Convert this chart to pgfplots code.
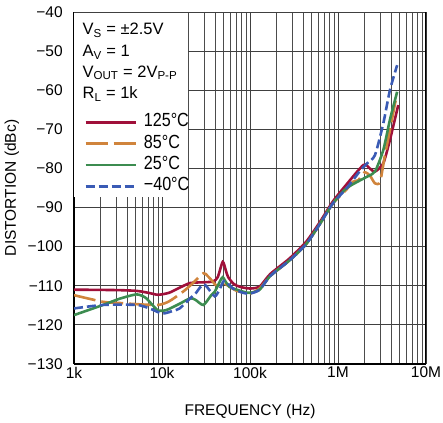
\documentclass[border=0pt]{standalone}
\usepackage{fontspec}
\setmainfont{Liberation Sans}
\newfontfamily\legfont{Liberation Sans}[FakeStretch=0.85]
\usepackage{pgfplots}
\pgfplotsset{compat=1.18}
\definecolor{cRed}{HTML}{A0103A}
\definecolor{cOrange}{HTML}{D0843C}
\definecolor{cGreen}{HTML}{3C8C50}
\definecolor{cBlue}{HTML}{3A5BB5}
\begin{document}
\fontsize{15.5}{18}\selectfont
\begin{tikzpicture}
\begin{axis}[
  scale only axis, width=352pt, height=352pt,
  xmode=log, xmin=1e3, xmax=1e7, ymin=-130, ymax=-40,
  ytick={-130,-120,-110,-100,-90,-80,-70,-60,-50,-40},
  yticklabels={−130,−120,−110,−100,−90,−80,−70,−60,−50,−40},
  xtick={1e3,1e4,1e5,1e6,1e7},
  xticklabels={1k,10k,100k,1M,10M},
  minor xtick={2e3,3e3,4e3,5e3,6e3,7e3,8e3,9e3,2e4,3e4,4e4,5e4,6e4,7e4,8e4,9e4,2e5,3e5,4e5,5e5,6e5,7e5,8e5,9e5,2e6,3e6,4e6,5e6,6e6,7e6,8e6,9e6},
  grid=both,
  major grid style={black!75, line width=0.9pt},
  minor grid style={black!70, line width=0.9pt},
  major tick length=0pt, minor tick length=0pt,
  tick style={draw=none},
  axis x line*=bottom, axis y line*=left,
  axis line style={line width=1.8pt, black, -},
  xticklabel style={yshift=2.5pt},
  yticklabel style={xshift=-6pt},
  xlabel={FREQUENCY (Hz)}, ylabel={DISTORTION (dBc)},
  xlabel style={yshift=-15pt},
  ylabel style={yshift=-2pt},
  legend style={at={(rel axis cs:0.02,0.720)}, anchor=north west, draw=none, fill=none,
    row sep=2.4pt,
    nodes={inner sep=0pt, text height=14pt, text depth=5pt, font=\fontsize{19}{21}\legfont},
    /tikz/every odd column/.append style={column sep=7pt}},
  legend cell align=left,
  legend image code/.code={\draw[#1] (0pt,0pt) -- (50pt,0pt);},
]
\fill[white] (axis cs:1e3,-40) rectangle (axis cs:1.95e4,-87.4);
\draw[black!75, line width=0.9pt] (rel axis cs:0,1) -- (rel axis cs:1,1);
\draw[black, line width=1.8pt] (rel axis cs:1,0) -- (rel axis cs:1,1);

\addplot[cRed, line width=2.6pt, smooth, tension=0.4] coordinates {
(1000,-111.0) (3000,-111.1) (5129,-111.3) (7000,-111.8) (9016,-112.3) (12000,-111.8)
(15850,-110.5) (20890,-109.3) (30000,-109.1) (38020,-108.9) (43000,-107.8) (48980,-103.9)
(53000,-106.0) (56230,-107.7) (65000,-109.5) (77620,-110.3) (100000,-110.7) (128800,-110.2)
(169800,-107.0) (281800,-103.0) (436500,-98.7) (631000,-93.5) (871000,-88.5) (1.259e6,-84.0)
(1.95e6,-79.1) (2.3e6,-80.0) (2.63e6,-80.8) (3.27e6,-78.7) (3.89e6,-72.7) (4.84e6,-63.8)
};
\addlegendentry{125°C}
\addplot[cOrange, line width=2.6pt, smooth, tension=0.4, dash pattern=on 22pt off 6pt] coordinates {
(1000,-112.4) (2138,-114.1) (3311,-114.4) (5129,-114.7) (9016,-114.9) (12000,-114.0)
(17380,-111.5) (22000,-109.5) (29510,-106.8) (33000,-107.5) (36310,-108.5) (42000,-110.0)
(50120,-109.3) (56230,-110.0) (70790,-111.3) (91200,-111.9) (100000,-112.0) (128800,-110.7)
(169800,-107.5) (281800,-103.5) (436500,-99.3) (631000,-94.0) (871000,-89.0) (1.259e6,-85.3)
(1.48e6,-83.4) (1.7e6,-83.0) (2.0e6,-81.0) (2.3e6,-81.8) (2.63e6,-83.8) (3.0e6,-83.5)
(3.39e6,-77.0) (3.89e6,-70.2) (4.6e6,-61.7)
};
\addlegendentry{85°C}
\addplot[cGreen, line width=2.6pt, smooth, tension=0.4] coordinates {
(1000,-117.5) (2138,-114.9) (3311,-113.3) (5129,-112.2) (6457,-113.0) (7500,-114.5)
(9016,-116.3) (11220,-116.2) (15850,-114.6) (20890,-113.2) (24000,-113.6) (29510,-114.9)
(36000,-112.5) (39810,-111.5) (45710,-108.8) (49000,-107.8) (53000,-109.0) (58880,-110.3)
(83180,-111.5) (100000,-111.8) (128800,-111.0) (169800,-107.5) (281800,-103.5) (436500,-99.3)
(631000,-94.0) (871000,-89.0) (1.259e6,-85.0) (2.14e6,-82.1) (2.63e6,-80.8) (3.27e6,-75.3)
(3.89e6,-67.6) (4.7e6,-60.4)
};
\addlegendentry{25°C}
\addplot[cBlue, line width=2.6pt, smooth, tension=0.4, dash pattern=on 9pt off 4pt] coordinates {
(1000,-115.8) (2138,-114.9) (5129,-114.9) (7244,-115.8) (10000,-117.1) (13000,-116.5)
(15850,-115.8) (20890,-113.2) (24000,-112.0) (26920,-110.5) (30000,-109.6) (33000,-110.5)
(39810,-112.7) (45000,-111.0) (50120,-108.8) (56230,-109.5) (65000,-110.8) (83180,-111.8)
(100000,-112.0) (128800,-111.0) (169800,-107.5) (281800,-103.5) (436500,-99.3) (631000,-94.0)
(871000,-89.0) (1.259e6,-85.0) (1.8e6,-80.5) (2.14e6,-78.7) (2.63e6,-76.6) (3.27e6,-68.5)
(3.89e6,-60.0) (4.7e6,-53.6)
};
\addlegendentry{−40°C}

\node[anchor=base west, inner sep=0pt, font=\fontsize{16.5}{18}\selectfont] at (rel axis cs:0.024,0.935) {V\textsubscript{S} = ±2.5V};
\node[anchor=base west, inner sep=0pt, font=\fontsize{16.5}{18}\selectfont] at (rel axis cs:0.024,0.873) {A\textsubscript{V} = 1};
\node[anchor=base west, inner sep=0pt, font=\fontsize{16.5}{18}\selectfont] at (rel axis cs:0.024,0.815) {V\textsubscript{OUT} = 2V\textsubscript{P-P}};
\node[anchor=base west, inner sep=0pt, font=\fontsize{16.5}{18}\selectfont] at (rel axis cs:0.024,0.753) {R\textsubscript{L} = 1k};
\end{axis}
\pgfresetboundingbox
\path ([shift={(-74pt,-59pt)}]current axis.south west) rectangle ([shift={(17pt,12pt)}]current axis.north east);
\end{tikzpicture}
\end{document}
